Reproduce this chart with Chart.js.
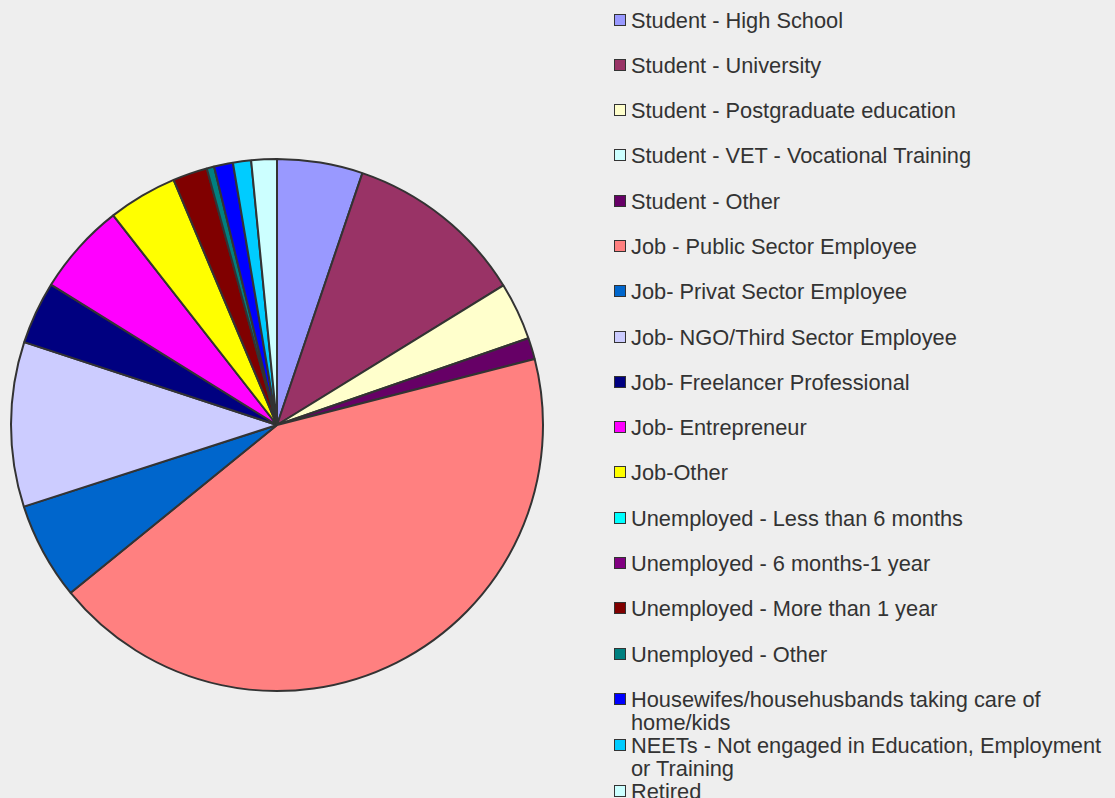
<!DOCTYPE html>
<html>
<head>
<meta charset="utf-8">
<script src="https://cdn.jsdelivr.net/npm/chart.js@4/dist/chart.umd.min.js"></script>
<style>
	html, body { margin: 0; padding: 0; background: #eeeeee; }
	body { width: 1115px; height: 798px; position: relative; overflow: hidden; }
	#wrap { position: absolute; left: 7px; top: 154.5px; width: 540px; height: 540px; }
	#legend { position: absolute; left: 614px; top: 8.5px; width: 500px;
		font-family: 'Liberation Sans', Arial, sans-serif; font-size: 21.8px; color: #333333; }
	.item { position: relative; padding-left: 17px; line-height: 23px; }
	.item .box { position: absolute; left: 0; top: 5px; width: 10px; height: 10px;
		border: 1.6px solid #333333; }
	.gap { margin-bottom: 22.3px; }
</style>
</head>
<body>
<div id="wrap"><canvas id="chart"></canvas></div>
<div id="legend"></div>
<script>
const categories = [
	'Student - High School',
	'Student - University',
	'Student - Postgraduate education',
	'Student - VET - Vocational Training',
	'Student - Other',
	'Job - Public Sector Employee',
	'Job- Privat Sector Employee',
	'Job- NGO/Third Sector Employee',
	'Job- Freelancer Professional',
	'Job- Entrepreneur',
	'Job-Other',
	'Unemployed - Less than 6 months',
	'Unemployed - 6 months-1 year',
	'Unemployed - More than 1 year',
	'Unemployed - Other',
	'Housewifes/househusbands taking care of home/kids',
	'NEETs - Not engaged in Education, Employment or Training',
	'Retired'
];

// shares in percent
const shares = [5.2, 11.0, 3.5, 0, 1.3, 43.1, 5.9, 10.0, 3.8, 5.6, 4.2, 0, 0, 2.1, 0.45, 1.15, 1.1, 1.55];

const colors = [
	'#9999ff', '#993366', '#ffffcc', '#ccffff', '#660066', '#ff8080',
	'#0066cc', '#ccccff', '#000080', '#ff00ff', '#ffff00', '#00ffff',
	'#800080', '#800000', '#008080', '#0000ff', '#00ccff', '#ccffff'
];

function buildLegend() {
	const el = document.getElementById('legend');
	categories.forEach((name, i) => {
		const row = document.createElement('div');
		row.className = 'item' + (i < 15 ? ' gap' : '');
		const box = document.createElement('span');
		box.className = 'box';
		box.style.background = colors[i];
		row.appendChild(box);
		row.appendChild(document.createTextNode(name));
		el.appendChild(row);
	});
}

buildLegend();

new Chart(document.getElementById('chart'), {
	type: 'pie',
	data: {
		labels: categories,
		datasets: [{
			data: shares,
			backgroundColor: colors,
			borderColor: '#333333',
			borderWidth: 2,
		}],
	},
	options: {
		responsive: true,
		maintainAspectRatio: false,
		animation: false,
		radius: 266,
		layout: { padding: 0 },
		plugins: {
			legend: { display: false },
			tooltip: { enabled: false },
		},
	},
});
</script>
</body>
</html>
